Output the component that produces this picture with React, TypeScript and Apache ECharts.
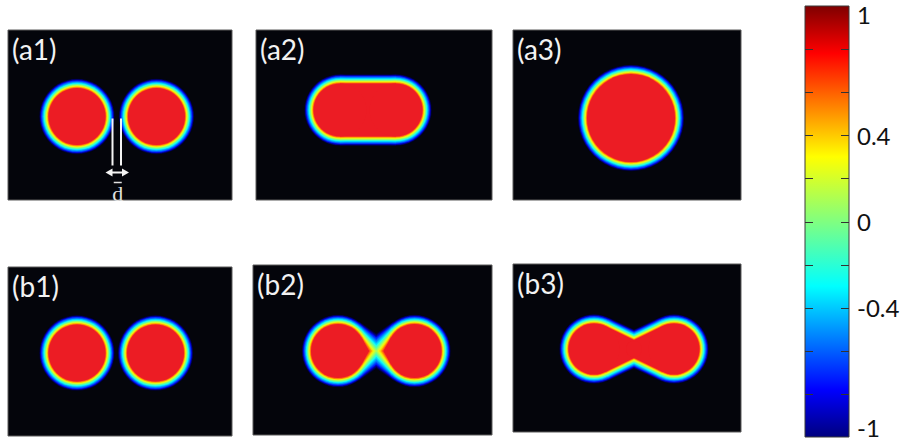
import React, { useEffect, useRef } from "react";
import * as echarts from "echarts";

// ---- data (panel-local pixel units) ----
// each shape is a tapered capsule between two discs:
// [x1, y1, coreR1, rimSpread1, x2, y2, coreR2, rimSpread2]
const A1_SHAPES = [
  [69, 86.5, 28.5, 1, 69, 86.5, 28.5, 1],
  [148.5, 86.5, 28.5, 1, 148.5, 86.5, 28.5, 1],
];
const A2_SHAPES = [[84, 80, 26.5, 1, 140, 80, 26.5, 1]];
const A3_SHAPES = [[118, 88, 44, 1, 118, 88, 44, 1]];
const B1_SHAPES = [
  [69, 86, 28.5, 1, 69, 86, 28.5, 1],
  [147.5, 86, 28.5, 1, 147.5, 86, 28.5, 1],
];
const B2_SHAPES = [
  [85, 86, 27, 1, 123.25, 86, -6, 2.2],
  [161.5, 86, 27, 1, 123.25, 86, -6, 2.2],
];
const B3_SHAPES = [
  [81, 85, 25.5, 1, 121, 85, 8, 1.05],
  [161, 85, 25.5, 1, 121, 85, 8, 1.05],
];
const PANEL_LABELS = ["(a1)", "(a2)", "(a3)", "(b1)", "(b2)", "(b3)"];
const COLORBAR_RANGE = [-1, 1];
const COLORBAR_TICKS = [-0.8, -0.6, -0.4, -0.2, 0, 0.2, 0.4, 0.6, 0.8];
const COLORBAR_LABELS = [1, 0.4, 0, -0.4, -1];

// ---- layout / style ----
const BOXES = [
  { left: 8, top: 30, width: 224, height: 170 },
  { left: 256, top: 30, width: 236, height: 170 },
  { left: 513, top: 30, width: 228, height: 170 },
  { left: 8, top: 267, width: 224, height: 169 },
  { left: 253, top: 265, width: 239, height: 170 },
  { left: 513, top: 264, width: 228, height: 168 },
];
const PANEL_SHAPES = [A1_SHAPES, A2_SHAPES, A3_SHAPES, B1_SHAPES, B2_SHAPES, B3_SHAPES];

// rim profile: [offset outward from core edge (px), colour]
const RIM: [number, string][] = [
  [8, "#00003a"],
  [7.5, "#000080"],
  [7, "#0000c8"],
  [6.5, "#0020ff"],
  [6, "#0050ff"],
  [5.5, "#0080ff"],
  [5, "#00b0ff"],
  [4.5, "#00e0ff"],
  [4, "#20fff0"],
  [3.5, "#50ffb0"],
  [3, "#80ff80"],
  [2.5, "#b0ff50"],
  [2, "#e0ff20"],
  [1.5, "#ffe000"],
  [1, "#ffa000"],
  [0.5, "#ff5a10"],
  [0, "#ec1c24"],
];
const RIM_SCALE = 1.15;
const RIM_OUTER = 7;
const FONT = "Lato";

function hull(p1: number[], a: number, p2: number[], b: number, color: string, z2: number, out: any[]) {
  if (a <= 0 && b <= 0) return;
  if (a <= 0) {
    const t = p1; p1 = p2; p2 = t;
    const r = a; a = b; b = r;
  }
  let dx = p2[0] - p1[0], dy = p2[1] - p1[1];
  let d = Math.hypot(dx, dy);
  if (b < 0 && d > 0) {
    const t0 = a / (a - b);
    p2 = [p1[0] + dx * t0, p1[1] + dy * t0];
    b = 0;
    dx = p2[0] - p1[0]; dy = p2[1] - p1[1];
    d = Math.hypot(dx, dy);
  }
  const style = { fill: color };
  if (d < 1e-6 || Math.abs(a - b) >= d) {
    const big = a >= b ? { c: p1, r: a } : { c: p2, r: b };
    out.push({ type: "circle", z2, shape: { cx: big.c[0], cy: big.c[1], r: big.r }, style });
    return;
  }
  const ux = dx / d, uy = dy / d, nx = -uy, ny = ux;
  const ca = (a - b) / d, sa = Math.sqrt(Math.max(0, 1 - ca * ca));
  const pt = (c: number[], r: number, sgn: number) => [
    c[0] + r * (ca * ux + sgn * sa * nx),
    c[1] + r * (ca * uy + sgn * sa * ny),
  ];
  out.push({ type: "polygon", z2, shape: { points: [pt(p1, a, 1), pt(p2, b, 1), pt(p2, b, -1), pt(p1, a, -1)] }, style });
  out.push({ type: "circle", z2, shape: { cx: p1[0], cy: p1[1], r: a }, style });
  if (b > 0) out.push({ type: "circle", z2, shape: { cx: p2[0], cy: p2[1], r: b }, style });
}

function shapeRender(params: any, api: any) {
  const p1 = api.coord([api.value(0), api.value(1)]);
  const p2 = api.coord([api.value(4), api.value(5)]);
  const r1 = api.value(2), s1 = api.value(3), r2 = api.value(6), s2 = api.value(7);
  const px = (v: number) => (v >= 0 ? api.size([v, 0])[0] : -api.size([-v, 0])[0]);
  const children: any[] = [];
  RIM.forEach(([o, color], i) => {
    const oo = o * RIM_SCALE;
    hull(p1, px(r1 + oo * s1), p2, px(r2 + oo * s2), color, i, children);
  });
  return { type: "group", children };
}

function gapRender(params: any, api: any) {
  const pL = api.coord([api.value(0), api.value(2)]);
  const pR = api.coord([api.value(1), api.value(2)]);
  const xL = pL[0], xR = pR[0], cy = pL[1];
  const ay = cy + 56;
  const white = "#f4f4f4";
  const aL = xL - 7, aR = xR + 8;
  const mid = (xL + xR) / 2 + 1;
  return {
    type: "group",
    children: [
      { type: "line", z2: 100, shape: { x1: xL, y1: cy + 2, x2: xL, y2: cy + 49 }, style: { stroke: white, lineWidth: 2 } },
      { type: "line", z2: 100, shape: { x1: xR, y1: cy + 2, x2: xR, y2: cy + 49 }, style: { stroke: white, lineWidth: 2 } },
      { type: "line", z2: 100, shape: { x1: aL + 4, y1: ay, x2: aR - 4, y2: ay }, style: { stroke: white, lineWidth: 2 } },
      { type: "polygon", z2: 100, shape: { points: [[aL, ay], [aL + 7, ay - 4], [aL + 7, ay + 4]] }, style: { fill: white } },
      { type: "polygon", z2: 100, shape: { points: [[aR, ay], [aR - 7, ay - 4], [aR - 7, ay + 4]] }, style: { fill: white } },
      { type: "line", z2: 100, shape: { x1: mid - 4, y1: cy + 66, x2: mid + 4, y2: cy + 66 }, style: { stroke: "#e0e0e0", lineWidth: 1.5 } },
      {
        type: "text", z2: 100,
        style: { text: "d", x: mid, y: cy + 77, align: "center", verticalAlign: "middle", fill: "#e0e0e0", font: "22px 'Liberation Serif'" },
      },
    ],
  };
}

function colorbarRender(params: any, api: any) {
  const pTop = api.coord([0, api.value(1)]);
  const pBot = api.coord([1, api.value(0)]);
  const x0 = pTop[0], x1 = pBot[0];
  const children: any[] = [
    {
      type: "rect",
      shape: { x: x0, y: pTop[1], width: x1 - x0, height: pBot[1] - pTop[1] },
      style: {
        fill: new echarts.graphic.LinearGradient(0, 0, 0, 1, [
          { offset: 0, color: "#7f0000" },
          { offset: 0.11, color: "#ff0000" },
          { offset: 0.35, color: "#ffff00" },
          { offset: 0.5, color: "#80ff80" },
          { offset: 0.65, color: "#00ffff" },
          { offset: 0.89, color: "#0000ff" },
          { offset: 1, color: "#00007f" },
        ]),
        stroke: "#3a3a3a",
        lineWidth: 1,
      },
    },
  ];
  COLORBAR_TICKS.forEach((t) => {
    const y = Math.round(api.coord([0, t])[1]) + 0.5;
    children.push({ type: "line", shape: { x1: x0, y1: y, x2: x0 + 8, y2: y }, style: { stroke: "#333", lineWidth: 1 } });
    children.push({ type: "line", shape: { x1: x1 - 8, y1: y, x2: x1, y2: y }, style: { stroke: "#333", lineWidth: 1 } });
  });
  return { type: "group", children };
}

export default function App() {
  const ref = useRef<HTMLDivElement>(null);
  useEffect(() => {
    if (!ref.current) return;
    const chart = echarts.init(ref.current, null, { renderer: "svg" });
    const grid: any[] = [];
    const xAxis: any[] = [];
    const yAxis: any[] = [];
    const series: any[] = [];
    const graphic: any[] = [];
    BOXES.forEach((b, i) => {
      grid.push({
        ...b,
        show: true,
        backgroundColor: "#04050b",
        borderColor: "#5a5a5a",
        borderWidth: 1,
      });
      xAxis.push({ type: "value", gridIndex: i, min: 0, max: b.width, show: false });
      yAxis.push({ type: "value", gridIndex: i, min: 0, max: b.height, inverse: true, show: false });
      series.push({
        type: "custom",
        xAxisIndex: i,
        yAxisIndex: i,
        renderItem: shapeRender,
        data: PANEL_SHAPES[i],
        encode: { x: [0, 4], y: [1, 5] },
        silent: true,
      });
      graphic.push({
        type: "text",
        left: b.left + 4,
        top: b.top + 5,
        z: 100,
        style: { text: PANEL_LABELS[i], fill: "#f2f2f2", font: `28px ${FONT}` },
      });
    });
    const c0 = A1_SHAPES[0], c1 = A1_SHAPES[1];
    series.push({
      type: "custom",
      xAxisIndex: 0,
      yAxisIndex: 0,
      z: 5,
      renderItem: gapRender,
      data: [[c0[0] + c0[2] + RIM_OUTER, c1[0] - c1[2] - RIM_OUTER, c0[1]]],
      silent: true,
    });
    const cbi = BOXES.length;
    grid.push({ left: 805, top: 6, width: 44, height: 431, show: false });
    xAxis.push({ type: "value", gridIndex: cbi, min: 0, max: 1, show: false });
    const isLab = (v: number) => COLORBAR_LABELS.some((l) => Math.abs(l - v) < 1e-6);
    yAxis.push({
      type: "value",
      gridIndex: cbi,
      position: "right",
      min: COLORBAR_RANGE[0],
      max: COLORBAR_RANGE[1],
      interval: 0.2,
      axisLine: { show: false },
      splitLine: { show: false },
      axisTick: { show: false },
      axisLabel: {
        show: true,
        margin: 8,
        color: "#111",
        fontFamily: FONT,
        fontSize: 24,
        formatter: (v: number) => {
          if (!isLab(v)) return "";
          const s = String(Math.round(v * 10) / 10);
          if (v > 0.99) return "{mx|" + s + "}";
          if (v < -0.99) return "{mn|" + s + "}";
          return s;
        },
        rich: {
          mx: { fontFamily: FONT, fontSize: 24, color: "#111", padding: [16, 0, 0, 0] },
          mn: { fontFamily: FONT, fontSize: 24, color: "#111", padding: [0, 0, 20, 0] },
        },
      },
    });
    series.push({
      type: "custom",
      xAxisIndex: cbi,
      yAxisIndex: cbi,
      renderItem: colorbarRender,
      data: [COLORBAR_RANGE],
      silent: true,
    });
    chart.setOption({
      animation: false,
      backgroundColor: "#ffffff",
      grid,
      xAxis,
      yAxis,
      series,
      graphic,
    });
    return () => chart.dispose();
  }, []);
  return (
    <div
      ref={ref}
      style={{ position: "fixed", left: 0, top: 0, width: 907, height: 445, background: "#fff" }}
    />
  );
}
